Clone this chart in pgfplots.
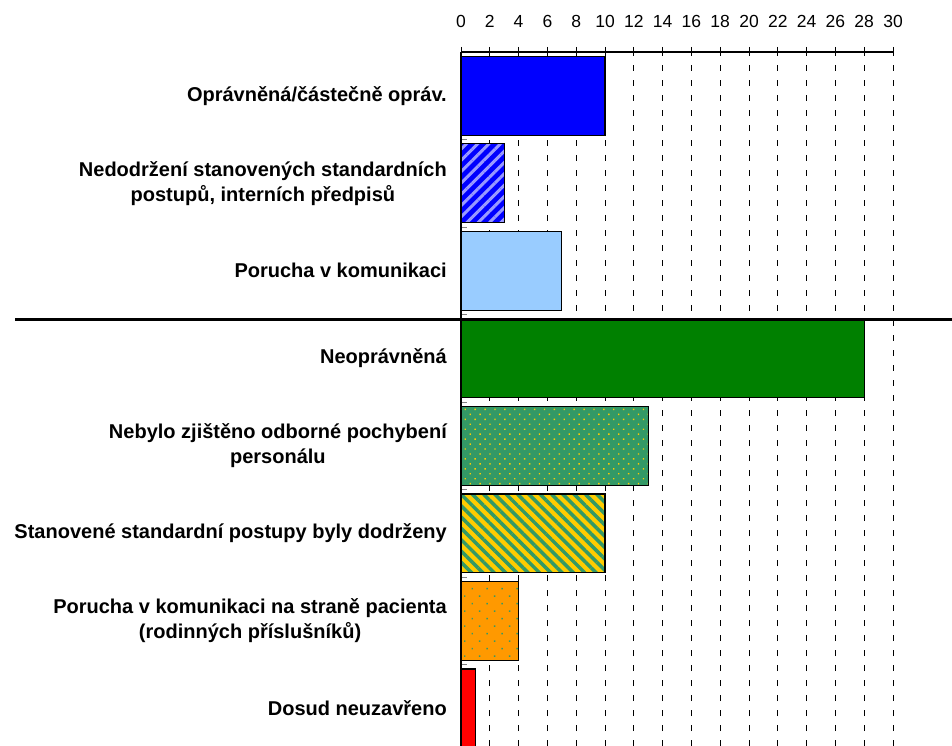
\documentclass[border=0pt]{standalone}
\usepackage{fontspec}
\setmainfont{Liberation Sans}
\usepackage{pgfplots}
\pgfplotsset{compat=1.18}
\usetikzlibrary{patterns.meta}
\definecolor{cBlue}{HTML}{0000FF}
\definecolor{cStripeBlue}{HTML}{9999FF}
\definecolor{cLightBlue}{HTML}{99CCFF}
\definecolor{cGreen}{HTML}{008000}
\definecolor{cSea}{HTML}{339966}
\definecolor{cGold}{HTML}{FFCC00}
\definecolor{cOrange}{HTML}{FF9900}
\definecolor{cRed}{HTML}{FF0000}
\begin{document}
\begin{tikzpicture}
\useasboundingbox (0,0) rectangle (952pt,-746pt);
\begin{axis}[
  at={(461pt,-52pt)}, anchor=north west,
  scale only axis, width=432pt, height=694pt,
  xmin=0, xmax=30, ymin=-0.43, ymax=7.5,
  axis x line*=top, axis y line*=left,
  xtick={0,2,...,30},
  ytick={0,1,...,7},
  yticklabels={
    Dosud neuzavřeno,
    {Porucha v komunikaci na straně pacienta\\(rodinných příslušníků)},
    Stanovené standardní postupy byly dodrženy,
    {Nebylo zjištěno odborné pochybení\\personálu},
    Neoprávněná,
    Porucha v komunikaci,
    {Nedodržení stanovených standardních\\postupů, interních předpisů},
    Oprávněná/částečně opráv.},
  minor ytick={0.5,1.5,...,6.5},
  tick align=outside,
  major tick length=5pt, minor tick length=6pt,
  major y tick style={draw=none},
  minor y tick style={xshift=6pt, gray, line width=1pt},
  major x tick style={black, line width=0.8pt},
  xmajorgrids,
  major x grid style={black, line width=0.8pt, dash pattern=on 6pt off 9pt},
  axis line style={line width=1.2pt},
  /pgf/number format/assume math mode=true,
  xticklabel style={font=\fontsize{17.5}{20}\selectfont, inner sep=0pt, yshift=19pt},
  yticklabel style={font=\fontsize{20}{25}\selectfont\bfseries, align=center, inner sep=0pt, xshift=-9pt},
  every axis plot/.append style={xbar, bar width=0.9, bar shift=0pt, draw=black, line width=1.2pt},
]
\addplot[fill=cBlue] coordinates {(10,7)};
\addplot[preaction={fill=cBlue}, pattern={Lines[angle=45,distance=8pt,line width=3pt]}, pattern color=cStripeBlue] coordinates {(3,6)};
\addplot[fill=cLightBlue] coordinates {(7,5)};
\addplot[fill=cGreen] coordinates {(28,4)};
\addplot[preaction={fill=cSea}, pattern={Dots[distance=7pt,radius=1pt,angle=45]}, pattern color=cGold] coordinates {(13,3)};
\addplot[preaction={fill=cGold}, pattern={Lines[angle=-45,distance=8pt,line width=3.5pt]}, pattern color=cSea] coordinates {(10,2)};
\addplot[preaction={fill=cOrange}, pattern={Dots[distance=10.6pt,radius=1pt,angle=45]}, pattern color=cSea] coordinates {(4,1)};
\addplot[fill=cRed] coordinates {(1,0)};
\end{axis}
\draw[line width=2.5pt] (15pt,-319.5pt) -- (952pt,-319.5pt);
\end{tikzpicture}
\end{document}
